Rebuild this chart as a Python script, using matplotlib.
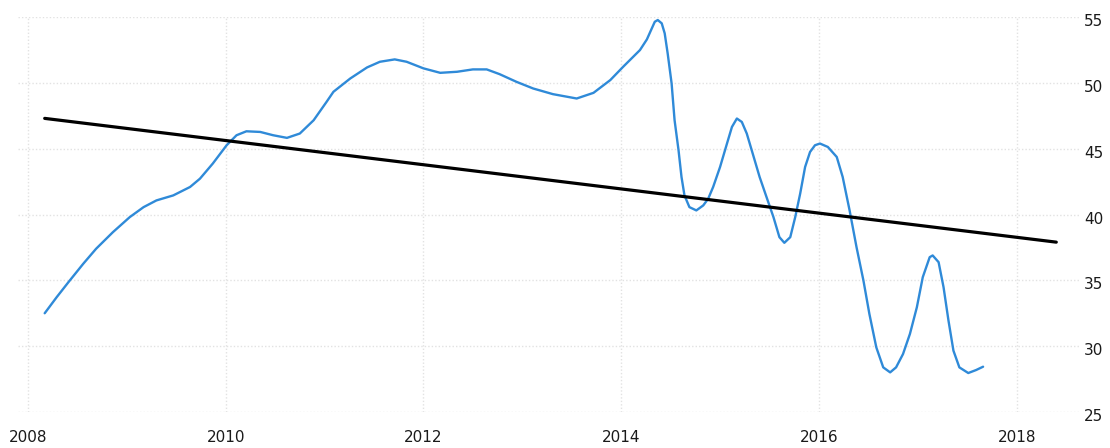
import matplotlib
matplotlib.use("Agg")
import matplotlib.pyplot as plt
import matplotlib.transforms as mtransforms

# Series (decimal year, value)
years = [2008.17, 2008.29, 2008.41, 2008.56, 2008.69, 2008.86, 2009.03, 2009.17,
         2009.30, 2009.47, 2009.64, 2009.74, 2009.87, 2010.01, 2010.11, 2010.21,
         2010.35, 2010.48, 2010.62, 2010.75, 2010.89, 2011.02, 2011.09, 2011.26,
         2011.43, 2011.56, 2011.71, 2011.83, 2012.00, 2012.17, 2012.34, 2012.50,
         2012.64, 2012.77, 2012.94, 2013.11, 2013.31, 2013.55, 2013.72, 2013.89,
         2014.02, 2014.19, 2014.26, 2014.31, 2014.34, 2014.37, 2014.41, 2014.44,
         2014.47, 2014.51, 2014.54, 2014.58, 2014.61, 2014.64, 2014.69, 2014.76,
         2014.83, 2014.88, 2014.93, 2015.00, 2015.07, 2015.12, 2015.17, 2015.22,
         2015.27, 2015.33, 2015.40, 2015.47, 2015.54, 2015.60, 2015.65, 2015.71,
         2015.76, 2015.81, 2015.86, 2015.91, 2015.96, 2016.01, 2016.09, 2016.18,
         2016.24, 2016.31, 2016.38, 2016.45, 2016.51, 2016.58, 2016.65, 2016.72,
         2016.78, 2016.85, 2016.92, 2016.99, 2017.05, 2017.12, 2017.15, 2017.21,
         2017.26, 2017.31, 2017.36, 2017.42, 2017.51, 2017.59, 2017.66]
values = [32.50, 33.71, 34.86, 36.26, 37.40, 38.66, 39.80, 40.56,
          41.07, 41.45, 42.09, 42.72, 43.87, 45.26, 46.02, 46.32,
          46.27, 46.02, 45.82, 46.15, 47.16, 48.55, 49.32, 50.33,
          51.17, 51.60, 51.78, 51.60, 51.10, 50.76, 50.84, 51.02,
          51.02, 50.66, 50.08, 49.57, 49.14, 48.81, 49.24, 50.21,
          51.22, 52.49, 53.30, 54.14, 54.64, 54.77, 54.52, 53.76,
          52.24, 49.95, 47.16, 44.88, 42.85, 41.45, 40.56, 40.31,
          40.69, 41.20, 42.09, 43.61, 45.39, 46.65, 47.29, 47.03,
          46.15, 44.63, 42.85, 41.32, 39.80, 38.28, 37.85, 38.28,
          39.80, 41.58, 43.61, 44.75, 45.26, 45.39, 45.13, 44.37,
          42.85, 40.31, 37.52, 34.98, 32.45, 29.91, 28.39, 28.01,
          28.39, 29.40, 30.93, 32.95, 35.24, 36.76, 36.89, 36.38,
          34.48, 31.94, 29.66, 28.39, 27.96, 28.19, 28.44]

trend_years = [2008.17, 2018.40]
trend_values = [47.3, 37.9]

x_ticks = [2008, 2010, 2012, 2014, 2016, 2018]
x_labels = ["2008", "2010", "2012", "2014", "2016", "2018"]
y_ticks = [25, 30, 35, 40, 45, 50, 55]
y_labels = ["25", "30", "35", "40", "45", "50", "55"]

fig = plt.figure(figsize=(11.10, 4.48), dpi=100)
ax = fig.add_axes([18 / 1110, 1 - 412 / 448, (1080 - 18) / 1110, (412 - 17) / 448])

ax.plot(years, values, color="#2f8ad8", lw=1.7, solid_joinstyle="round",
        solid_capstyle="round", zorder=3)
ax.plot(trend_years, trend_values, color="#000000", lw=2.3, solid_capstyle="round", zorder=4)

ax.set_xlim(2007.9, 2018.64)
ax.set_ylim(25, 55)
ax.set_xticks(x_ticks)
ax.set_xticklabels(x_labels)
ax.set_yticks(y_ticks)
ax.set_yticklabels(y_labels)
ax.yaxis.tick_right()

for s in ax.spines.values():
    s.set_visible(False)

ax.grid(True, color="#e2e2e2", lw=1.0, linestyle=(0, (1, 1.5)), zorder=0)
ax.tick_params(axis="both", length=0, labelsize=11, labelcolor="#1a1a1a")
ax.tick_params(axis="x", pad=13)
ax.tick_params(axis="y", pad=3)

offset = mtransforms.ScaledTranslation(0, -3 / 100, fig.dpi_scale_trans)
for lab in ax.get_yticklabels():
    lab.set_transform(lab.get_transform() + offset)

fig.savefig("out.png", dpi=100, facecolor="white")
